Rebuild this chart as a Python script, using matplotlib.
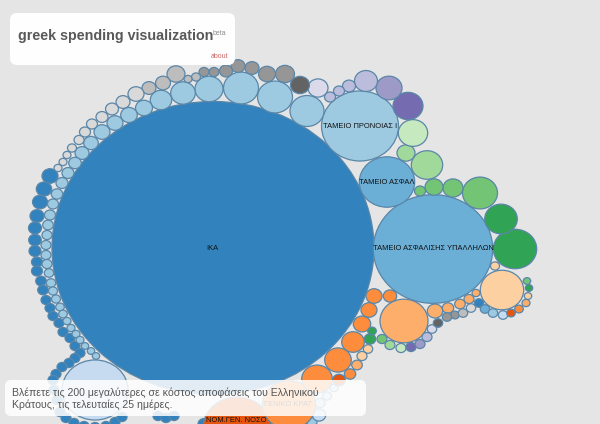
# Greek spending bubbles, positions and sizes

import matplotlib
matplotlib.use("Agg")
from matplotlib import pyplot as plt
from matplotlib.patches import Ellipse, FancyBboxPatch

plt.rcParams['font.family'] = ['Liberation Sans', 'DejaVu Sans']

# the picture is squashed vertically, so circles come out as ellipses
SQUASH = 0.91

# (x, y, radius) per colour, the colour is the tab20c index
blue_0 = [
    (213, 248, 161), (50, 176, 8), (44, 189, 7.7), (40, 202, 7.5), (37, 216, 7),
    (35, 228, 6.5), (35, 240, 6.3), (35, 251, 6), (37, 262, 5.5), (37, 271, 5.5),
    (41, 281, 5.3), (43, 290, 5.3), (46, 300, 5), (50, 308, 5), (53, 316, 5),
    (59, 323, 5), (63, 332, 5), (70, 338, 5), (75, 346, 5), (80, 353, 5),
    (75, 358, 5), (69, 363, 5), (62, 367, 5), (56, 374, 5), (53, 380, 5),
    (54, 390, 5), (57, 400, 5), (60, 412, 5), (66, 418, 5), (74, 423, 5),
    (84, 426, 5), (95, 427, 5), (106, 426, 5), (115, 422, 5), (122, 417, 5),
    (158, 416, 5), (166, 418, 5), (174, 416, 5), (204, 424, 6), (479, 303, 4.7),
]
blue_1 = [(433, 249, 59.7), (387, 182, 27.7), (485, 309, 4.7)]
blue_2 = [
    (360, 126, 38.5), (307, 111, 17), (275, 97, 17.5), (241, 88, 17.5),
    (209, 89, 14), (183, 93, 12.3), (161, 100, 10.7), (144, 108, 8.5),
    (129, 115, 8.3), (115, 123, 8), (102, 132, 8), (91, 143, 7.3), (82, 153, 7),
    (75, 163, 6.3), (68, 173, 6), (62, 183, 6), (57, 194, 5.7), (53, 204, 5.5),
    (50, 215, 5.5), (48, 225, 5.3), (47, 235, 5), (46, 245, 5), (46, 255, 5),
    (47, 264, 5), (49, 273, 4.7), (51, 283, 4.7), (53, 291, 4.5), (56, 299, 4.5),
    (60, 307, 4.3), (63, 314, 4.3), (67, 321, 4), (71, 328, 4), (76, 334, 4),
    (80, 340, 4), (85, 346, 3.7), (91, 351, 3.7), (96, 356, 3.7), (493, 313, 4.7),
    (312, 422, 5),
]
blue_3 = [
    (95, 390, 33), (503, 315, 4.7), (319, 415, 6.7), (334, 388, 4),
    (327, 396, 4.5), (320, 403, 5),
]
orange_4 = [(237, 428, 34), (339, 380, 6.3), (511, 313, 4.3)]
orange_5 = [
    (289, 405, 26.6), (317, 379, 15.3), (338, 360, 13.3), (353, 342, 11.3),
    (362, 324, 8.7), (369, 310, 8), (374, 296, 8), (390, 296, 6.7),
    (350, 374, 5.7), (519, 309, 4.3),
]
orange_6 = [
    (404, 321, 24), (435, 311, 7.7), (448, 308, 5.7), (460, 304, 5.3),
    (469, 299, 5), (476, 293, 4), (357, 365, 5.3), (526, 303, 4),
]
orange_7 = [(502, 290, 21.7), (495, 266, 4.5), (528, 296, 3.7), (368, 349, 4.7), (362, 356, 5)]
green_8 = [(515, 249, 21.7), (501, 219, 16.3), (529, 288, 3.7), (370, 339, 5.7), (372, 331, 4.3)]
green_9 = [
    (480, 193, 17.5), (453, 188, 10), (434, 187, 9), (420, 191, 5.5),
    (382, 339, 5), (527, 281, 3.7),
]
green_10 = [(427, 165, 15.7), (406, 153, 9), (390, 345, 5)]
green_11 = [(413, 133, 14.7), (401, 348, 5)]
purple_12 = [(408, 106, 15), (411, 347, 5)]
purple_13 = [(389, 88, 13), (420, 344, 5)]
purple_14 = [(366, 81, 11.5), (349, 86, 6.5), (339, 91, 5.5), (330, 97, 5.5), (427, 337, 5)]
purple_15 = [(318, 88, 10), (432, 329, 4.7)]
grey_16 = [(300, 85, 9.5), (438, 323, 4.7)]
grey_17 = [
    (285, 74, 9.5), (267, 74, 8.5), (252, 68, 7), (238, 66, 7), (226, 71, 6.5),
    (214, 72, 5), (204, 72, 5), (455, 315, 4.3), (447, 317, 4.7),
]
grey_18 = [(196, 77, 4.5), (188, 79, 4), (176, 74, 9), (163, 83, 7.5), (149, 88, 7), (463, 313, 4.7)]
grey_19 = [
    (136, 94, 8), (123, 102, 7), (112, 109, 6.5), (102, 117, 6), (92, 124, 5.5),
    (85, 132, 5.5), (79, 140, 5), (72, 148, 4.5), (67, 155, 4), (63, 162, 4),
    (58, 168, 4), (471, 308, 4.7),
]

colour_groups = [
    blue_0, blue_1, blue_2, blue_3, orange_4, orange_5, orange_6, orange_7,
    green_8, green_9, green_10, green_11, purple_12, purple_13, purple_14,
    purple_15, grey_16, grey_17, grey_18, grey_19,
]

# label text, x, y, and which bubble it gets clipped to
labels = [
    ("ΙΚΑ", 212, 249, blue_0[0]),
    ("ΤΑΜΕΙΟ ΑΣΦΑΛΙΣΗΣ ΥΠΑΛΛΗΛΩΝ", 433.5, 249, blue_1[0]),
    ("ΤΑΜΕΙΟ ΠΡΟΝΟΙΑΣ Ι", 360, 126.5, blue_2[0]),
    ("ΤΑΜΕΙΟ ΑΣΦΑΛ", 387, 182, blue_1[1]),
    ("ΝΟΜ.ΓΕΝ. ΝΟΣΟ", 236, 421, orange_4[0]),
    ("ΓΕΝΙΚΟ ΚΡΑΤ", 288, 405, orange_5[0]),
]

title = "greek spending visualization"
intro_lines = [
    "Βλέπετε τις 200 μεγαλύτερες σε κόστος αποφάσεις του Ελληνικού",
    "Κράτους, τις τελευταίες 25 ημέρες.",
]

fig = plt.figure(figsize=(6, 4.24), dpi=100, facecolor="#e5e5e5")
ax = fig.add_axes([0, 0, 1, 1])
ax.set_xlim(0, 600)
ax.set_ylim(424, 0)
ax.axis("off")

cmap = plt.get_cmap("tab20c")


def make_bubble(x, y, r, **kw):
    return Ellipse((x, y), 2 * r, 2 * r * SQUASH, **kw)


for i, group in enumerate(colour_groups):
    for x, y, r in group:
        ax.add_patch(make_bubble(x, y, r, facecolor=cmap(i), edgecolor="#5a86a8",
                                 linewidth=0.9, zorder=2))

for text, x, y, (bx, by, br) in labels:
    t = ax.text(x, y, text, fontsize=5.4, color="#111111", ha="center", va="center", zorder=3)
    clip = make_bubble(bx, by, br, transform=ax.transData)
    t.set_clip_path(clip)

# title box
ax.add_patch(FancyBboxPatch((10, 13), 225, 52, boxstyle="round,pad=0,rounding_size=7",
                            facecolor="#fefefe", edgecolor="none", zorder=5))
ax.text(18, 36, title, fontsize=10.25, fontweight="bold", color="#595959",
        ha="left", va="center", zorder=6)
ax.text(213, 33.5, "beta", fontsize=5, color="#8a8a8a", ha="left", va="center", zorder=6)
ax.text(228, 56, "about", fontsize=5, color="#cc6666", ha="right", va="center", zorder=6)

# intro panel at the bottom, the bubbles show through a little
ax.add_patch(FancyBboxPatch((5, 380), 361, 36, boxstyle="round,pad=0,rounding_size=6",
                            facecolor="white", edgecolor="none", alpha=0.86, zorder=5))
ax.text(12, 393, intro_lines[0], fontsize=7.6, color="#555555", ha="left", va="center", zorder=6)
ax.text(12, 405, intro_lines[1], fontsize=7.6, color="#555555", ha="left", va="center", zorder=6)

plt.savefig("out.png", dpi=100, facecolor=fig.get_facecolor())
